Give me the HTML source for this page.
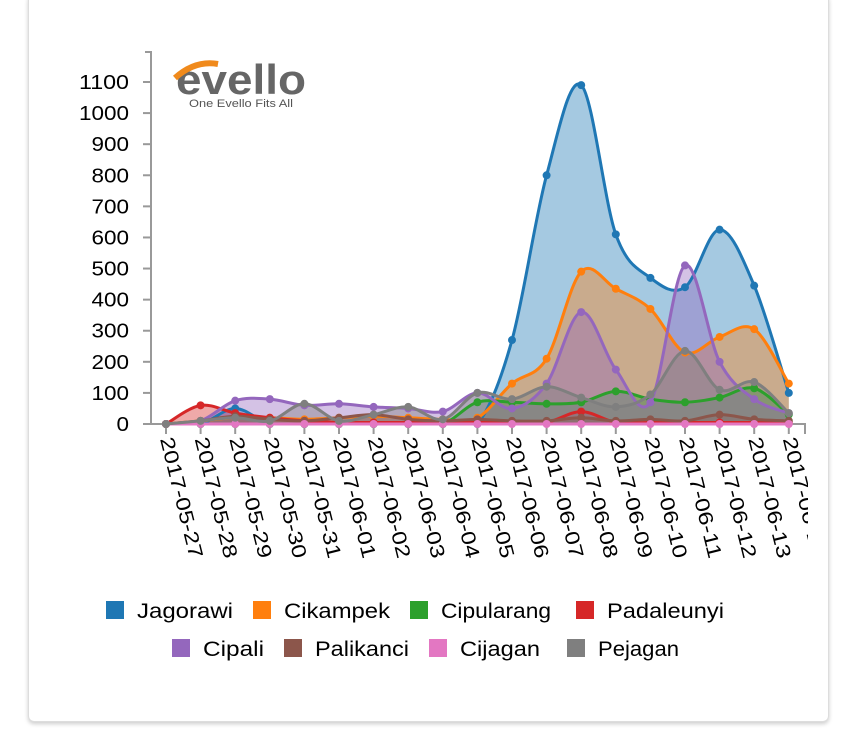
<!DOCTYPE html>
<html><head><meta charset="utf-8"><style>
body{margin:0;background:#fff;width:864px;height:749px;overflow:hidden;font-family:"Liberation Sans",sans-serif}
.card{position:absolute;left:28px;top:-6px;width:799px;height:726px;border:1px solid #ddd;border-radius:6px;box-shadow:0 2px 4px rgba(0,0,0,.2);background:#fff}
</style></head><body>
<div class="card"></div>
<svg id="s" width="864" height="749" style="position:absolute;left:0;top:0" font-family="Liberation Sans, sans-serif"></svg>
<script>
const s=document.getElementById('s');
let h='<defs><clipPath id="c"><rect x="0" y="0" width="808" height="749"/></clipPath></defs><g clip-path="url(#c)">';
const y0=424,k=342/1100,x0=166,dx=34.6;
const X=i=>x0+i*dx, Y=v=>y0-v*k;
h+='<path d="M145,52H151V424H145" fill="none" stroke="#999" stroke-width="2"/>';
for(let v=0;v<=1100;v+=100){const y=Y(v);const t=String(v);h+=`<line x1="143" x2="151" y1="${y}" y2="${y}" stroke="#999" stroke-width="2"/><text x="129" y="${y+7}" font-size="20" text-anchor="end" textLength="${t.length*12.5}" lengthAdjust="spacingAndGlyphs">${t}</text>`;}
h+='<path d="M151,424H805V434" fill="none" stroke="#999" stroke-width="2"/>';
const dates=[];for(let d=27;d<=31;d++)dates.push('2017-05-'+d);for(let d=1;d<=14;d++)dates.push('2017-06-'+String(d).padStart(2,'0'));
dates.forEach((t,i)=>{const x=X(i);h+=`<line x1="${x}" x2="${x}" y1="424" y2="434" stroke="#999" stroke-width="2"/><text transform="translate(${x-6},439) rotate(76)" font-size="20" textLength="124" lengthAdjust="spacingAndGlyphs">${t}</text>`;});
const ser=[
['#1f77b4',[0,0,50,0,0,0,0,0,0,0,270,800,1090,610,470,440,625,445,100]],
['#ff7f0e',[0,10,20,20,15,20,25,20,15,20,130,210,490,435,370,230,280,305,130]],
['#2ca02c',[0,0,0,0,0,0,0,0,0,70,70,65,70,105,80,70,85,115,30]],
['#d62728',[0,60,35,20,10,5,5,5,5,5,5,5,40,5,5,5,5,5,5]],
['#9467bd',[0,10,75,80,60,65,55,50,40,100,50,130,360,175,70,510,200,80,35]],
['#8c564b',[0,10,25,15,10,20,30,15,10,15,10,10,20,10,15,10,30,15,10]],
['#e377c2',[0,0,0,0,0,0,0,0,0,0,0,0,0,0,0,0,0,0,0]],
['#7f7f7f',[0,10,20,10,65,10,30,55,15,100,80,120,85,55,95,235,110,135,35]]];
function path(d){const p=d.map((v,i)=>[X(i),Y(v)]);let s=`M${p[0]}`;for(let i=0;i<p.length-1;i++){const a=p[Math.max(i-1,0)],b=p[i],c=p[i+1],e=p[Math.min(i+2,p.length-1)];const t=1/6;s+=`C${b[0]+(c[0]-a[0])*t},${Math.min(y0,b[1]+(c[1]-a[1])*t)} ${c[0]-(e[0]-b[0])*t},${Math.min(y0,c[1]-(e[1]-b[1])*t)} ${c[0]},${c[1]}`;}return s;}
ser.forEach(([c,d])=>{const p=path(d);h+=`<path d="${p}L${X(18)},${y0}L${X(0)},${y0}Z" fill="${c}" fill-opacity="0.4"/>`;});
ser.forEach(([c,d])=>{h+=`<path d="${path(d)}" fill="none" stroke="${c}" stroke-width="3"/>`;d.forEach((v,i)=>h+=`<circle cx="${X(i)}" cy="${Y(v)}" r="4" fill="${c}"/>`);});
h+='</g>';
h+='<text x="176" y="94" font-size="42" fill="#666" font-weight="bold" textLength="130" lengthAdjust="spacingAndGlyphs">evello</text><path d="M175,78 Q195,60 218,64" stroke="#f08a1c" stroke-width="6" fill="none"/><text x="189" y="107" font-size="11" fill="#555" textLength="104" lengthAdjust="spacingAndGlyphs">One Evello Fits All</text>';
const L=[['Jagorawi',106,0,96],['Cikampek',253,1,106],['Cipularang',410,2,110],['Padaleunyi',576,3,117],['Cipali',172,4,61],['Palikanci',284,5,94],['Cijagan',429,6,80],['Pejagan',567,7,81]];
L.forEach(([n,x,i,w],j)=>{const y=j<4?601:639;h+=`<rect x="${x}" y="${y}" width="18" height="18" fill="${ser[i][0]}"/><text x="${x+31}" y="${y+17}" font-size="21" textLength="${w}" lengthAdjust="spacingAndGlyphs">${n}</text>`;});
s.innerHTML=h;
</script>
</body></html>
